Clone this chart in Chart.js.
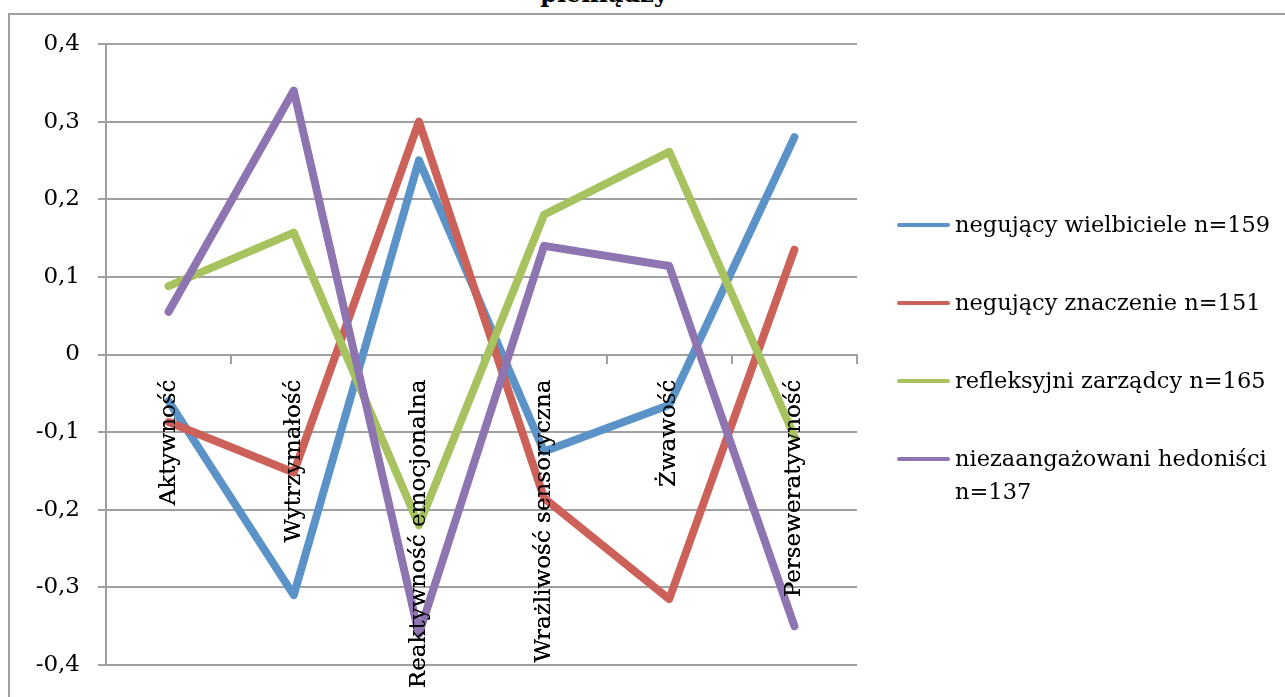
<!DOCTYPE html>
<html lang="pl">
<head>
<meta charset="utf-8">
<title>Profile temperamentu</title>
<script src="https://cdn.jsdelivr.net/npm/chart.js@4.4.1/dist/chart.umd.min.js"></script>
<style>
  html, body { margin: 0; padding: 0; background: #fff; }
  body { width: 1285px; height: 697px; position: relative; overflow: hidden; font-family: 'DejaVu Serif', serif; color: #000; }
  #frame { position: absolute; left: 8px; top: 13px; width: 1290px; height: 720px; border: 2px solid #a0a0a0; box-sizing: border-box; }
  #title { position: absolute; left: 0; top: -18px; width: 1208px; text-align: center; font-weight: bold; font-size: 24px; line-height: 24px; }
  #chart { position: absolute; left: 0; top: 0; }
  #legend { position: absolute; left: 897px; top: 208px; font-size: 22.5px; }
  .item { display: flex; align-items: flex-start; height: 78px; }
  .swatch { flex: none; width: 53px; height: 4px; border-radius: 2px; margin-top: 15px; margin-right: 5px; }
  .name { line-height: 33px; width: 345px; }
</style>
</head>
<body>
<div id="frame"></div>
<div id="title">pieniądzy</div>
<canvas id="chart" width="1285" height="697"></canvas>
<div id="legend"></div>
<script>
const categories = ['Aktywność', 'Wytrzymałość', 'Reaktywność emocjonalna', 'Wrażliwość sensoryczna', 'Żwawość', 'Perseweratywność'];

const seriesNames = [
  'negujący wielbiciele n=159',
  'negujący znaczenie n=151',
  'refleksyjni zarządcy n=165',
  'niezaangażowani hedoniści n=137',
];
const seriesColors = ['#5b93c9', '#cc615a', '#a6c35f', '#8e74b0'];

const negujacyWielbiciele = [-0.06, -0.31, 0.25, -0.125, -0.065, 0.28];
const negujacyZnaczenie = [-0.087, -0.152, 0.30, -0.185, -0.315, 0.135];
const refleksyjniZarzadcy = [0.088, 0.157, -0.22, 0.18, 0.261, -0.105];
const niezaangazowaniHedonisci = [0.055, 0.34, -0.36, 0.14, 0.114, -0.35];

const yMin = -0.4;
const yMax = 0.4;
const yStep = 0.1;

const seriesValues = [negujacyWielbiciele, negujacyZnaczenie, refleksyjniZarzadcy, niezaangazowaniHedonisci];

const GRID = '#a0a0a0';
const FONT = { family: "'DejaVu Serif', serif", size: 23 };

// later series drawn on top (lower order = drawn last)
const datasets = seriesValues.map((vals, i) => ({
  label: seriesNames[i],
  data: vals,
  borderColor: seriesColors[i],
  backgroundColor: seriesColors[i],
  borderWidth: 8,
  borderCapStyle: 'round',
  borderJoinStyle: 'round',
  pointRadius: 0,
  pointHoverRadius: 0,
  tension: 0,
  fill: false,
  order: seriesValues.length - i,
}));

function fmtTick(v) {
  if (Math.abs(v) < 1e-9) return '0';
  return v.toFixed(1).replace('.', ',');
}

// category names sit inside the plot, so paint them again over the lines
const labelsOnTop = {
  id: 'labelsOnTop',
  afterDatasetsDraw(chart) {
    chart.scales.x.drawLabels(chart.chartArea);
  },
};

new Chart(document.getElementById('chart'), {
  type: 'line',
  data: { labels: categories, datasets },
  plugins: [labelsOnTop],
  options: {
    responsive: false,
    animation: false,
    layout: { padding: { left: 8, top: 44, right: 428, bottom: 32 } },
    plugins: {
      legend: { display: false },
      tooltip: { enabled: false },
      title: { display: false },
    },
    scales: {
      x: {
        type: 'category',
        position: { y: 0 },
        offset: true,
        afterFit(scale) { scale.height = 0; },
        grid: { display: true, offset: true, drawOnChartArea: false, drawTicks: true, tickLength: 8, color: GRID, lineWidth: 2 },
        border: { display: true, color: GRID, width: 2 },
        ticks: { autoSkip: false, minRotation: 90, maxRotation: 90, padding: 17, color: '#000', font: FONT },
      },
      y: {
        min: yMin,
        max: yMax,
        afterFit(scale) { scale.width = 98; },
        grid: { color: GRID, lineWidth: 2, drawTicks: true, tickLength: 8 },
        border: { display: true, color: GRID, width: 2 },
        ticks: { stepSize: yStep, padding: 18, color: '#000', font: FONT, callback: v => fmtTick(v) },
      },
    },
  },
});

// legend on the right
const legend = document.getElementById('legend');
legend.innerHTML = seriesNames.map((name, i) => `
  <div class="item">
    <div class="swatch" style="background:${seriesColors[i]}"></div>
    <div class="name">${name}</div>
  </div>`).join('');
</script>
</body>
</html>
